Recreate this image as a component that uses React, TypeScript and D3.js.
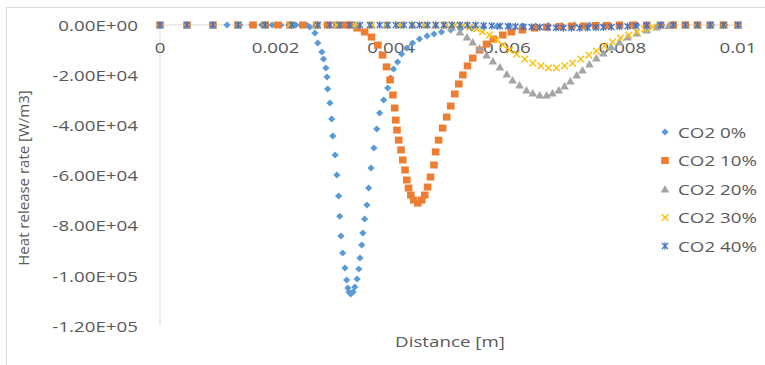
import * as d3 from "d3";

// distance [m], heat release rate [W/m3]
const co2_0: [number, number][] = [
  [0, 0], [0.000467, 0], [0.000916, 0], [0.00116, 0], [0.00138, 0], [0.00159, 0], [0.00176, 0],
  [0.00194, 0], [0.00209, 0], [0.00223, 0], [0.00235, 0], [0.00245, 0], [0.00254, 0],
  [0.00259, -800], [0.00268, -3200], [0.00273, -7200], [0.0028, -10800], [0.00283, -13600],
  [0.00287, -17100], [0.00289, -20700], [0.0029, -25500], [0.00294, -31100], [0.00297, -37500],
  [0.00299, -44300], [0.00303, -51800], [0.00306, -59800], [0.00309, -68200], [0.00311, -76200],
  [0.00313, -84100], [0.00316, -90900], [0.0032, -96900], [0.00323, -101700], [0.00325, -104900],
  [0.00327, -106400], [0.0033, -107200], [0.00334, -106400], [0.00337, -104500], [0.00341, -101300],
  [0.00344, -97300], [0.00346, -92900], [0.00349, -87700], [0.00351, -82900], [0.00354, -77300],
  [0.00358, -71800], [0.00361, -65000], [0.00365, -57000], [0.0037, -49000], [0.00375, -41500],
  [0.0038, -35100], [0.00387, -29900], [0.00394, -25100], [0.00399, -21100], [0.00404, -17500],
  [0.00411, -14800], [0.00418, -11600], [0.00427, -9200], [0.00437, -7200], [0.00449, -5600],
  [0.00462, -4400], [0.00474, -3600], [0.00487, -2800], [0.00503, -2000], [0.0052, -1600],
  [0.00539, -1200], [0.0056, -800], [0.00583, -600], [0.00605, -400], [0.00627, -400],
  [0.0065, -400], [0.00672, -200], [0.00695, -200], [0.00717, 0], [0.00743, 0], [0.00769, 0],
  [0.00795, 0], [0.00825, 0], [0.00842, 0], [0.00868, 0], [0.00887, 0], [0.00911, 0],
  [0.0093, 0], [0.00954, 0], [0.00977, 0], [0.01, 0],
];

const co2_10: [number, number][] = [
  [0, 0], [0.000467, 0], [0.000916, 0], [0.00135, 0], [0.00161, 0], [0.00182, 0], [0.00204, 0],
  [0.00225, 0], [0.00247, 0], [0.00271, 0], [0.0029, 0], [0.00306, 0], [0.0032, 0], [0.00332, 0],
  [0.00341, -1200], [0.00354, -2800], [0.00366, -4800], [0.00377, -8000], [0.00385, -12000],
  [0.00392, -16700], [0.00398, -21900], [0.00403, -27900], [0.00406, -33100], [0.00408, -37900],
  [0.0041, -41900], [0.00413, -45900], [0.00417, -49800], [0.0042, -53800], [0.00424, -57800],
  [0.00427, -61800], [0.0043, -65000], [0.00434, -67800], [0.00439, -69800], [0.00446, -71000],
  [0.00453, -69800], [0.00458, -67800], [0.00463, -64600], [0.00468, -60600], [0.00474, -55800],
  [0.00477, -50600], [0.00482, -45900], [0.00489, -41100], [0.00496, -36700], [0.00503, -32300],
  [0.0051, -27500], [0.00517, -23500], [0.00524, -19900], [0.00532, -16300], [0.00541, -13200],
  [0.00553, -10000], [0.00565, -7600], [0.00577, -5600], [0.00593, -4000], [0.00608, -2800],
  [0.00627, -2000], [0.00648, -1200], [0.00669, -800], [0.00691, -600], [0.00712, -400],
  [0.00733, -400], [0.00754, -200], [0.00774, -200], [0.00795, 0], [0.00818, 0], [0.00842, 0],
  [0.00866, 0], [0.00888, 0], [0.00909, 0], [0.0093, 0], [0.00952, 0], [0.00975, 0], [0.01, 0],
];

const co2_20: [number, number][] = [
  [0, 0], [0.000467, 0], [0.000916, 0], [0.00135, 0], [0.00182, 0], [0.00225, 0], [0.00271, 0],
  [0.00306, 0], [0.00337, 0], [0.00366, 0], [0.00392, 0], [0.00415, 0], [0.00437, 0], [0.00458, 0],
  [0.00477, 0], [0.00494, 0],
  [0.00505, -800], [0.00519, -2800], [0.00531, -4800], [0.00541, -6800], [0.00553, -9200],
  [0.00565, -12000], [0.00576, -14400], [0.00588, -16700], [0.006, -19500], [0.0061, -21900],
  [0.00622, -23900], [0.00634, -25900], [0.00645, -27100], [0.00657, -27900], [0.00669, -27900],
  [0.00679, -27100], [0.0069, -25900], [0.007, -24300], [0.0071, -22300], [0.00721, -19900],
  [0.00731, -17900], [0.00743, -15500], [0.00755, -13200], [0.00767, -11200], [0.00781, -8800],
  [0.00795, -6800], [0.00809, -4800], [0.00825, -3200], [0.00842, -2000], [0.00859, -800],
  [0.0088, -200], [0.00909, 0], [0.0093, 0], [0.00952, 0], [0.00975, 0], [0.01, 0],
];

const co2_30: [number, number][] = [
  [0, 0], [0.000467, 0], [0.000916, 0], [0.00135, 0], [0.00182, 0], [0.00225, 0], [0.00271, 0],
  [0.00306, 0], [0.00337, 0], [0.00366, 0], [0.00392, 0], [0.00415, 0], [0.00437, 0], [0.00458, 0],
  [0.00477, 0], [0.00494, 0], [0.0051, 0],
  [0.00524, -200], [0.00536, -800], [0.00548, -1600], [0.00558, -2800], [0.0057, -4000],
  [0.00583, -6000], [0.00593, -8000], [0.00605, -10000], [0.00617, -11600], [0.00631, -13600],
  [0.00645, -15200], [0.00659, -16300], [0.00672, -17100], [0.00686, -17100], [0.007, -16300],
  [0.00714, -15200], [0.00728, -13600], [0.00742, -12000], [0.00755, -10400], [0.00769, -8400],
  [0.00783, -6800], [0.00797, -5200], [0.00811, -4000], [0.00825, -2800], [0.00838, -1600],
  [0.00852, -800], [0.00866, -200], [0.00888, 0], [0.00909, 0], [0.0093, 0], [0.00952, 0],
  [0.00975, 0], [0.01, 0],
];

const co2_40: [number, number][] = [
  [0, 0], [0.000467, 0], [0.000916, 0], [0.00135, 0], [0.00182, 0], [0.00228, 0], [0.00273, 0],
  [0.00294, 0], [0.00311, 0], [0.00328, 0], [0.00346, 0], [0.00363, 0], [0.0038, 0], [0.00394, 0],
  [0.00408, 0], [0.00422, 0], [0.00436, 0], [0.00449, 0], [0.00463, 0], [0.00477, 0], [0.00491, 0],
  [0.00505, 0], [0.00519, 0], [0.00532, 0], [0.00546, 0], [0.0056, -200], [0.00574, -300],
  [0.00588, -400], [0.00602, -500], [0.00615, -600], [0.00629, -700], [0.00643, -800],
  [0.00657, -900], [0.00671, -1000], [0.00685, -1100], [0.00698, -1200], [0.00712, -1200],
  [0.00726, -1200], [0.0074, -1100], [0.00754, -1000], [0.00767, -900], [0.00781, -800],
  [0.00795, -600], [0.00809, -500], [0.00823, -300], [0.00842, -200], [0.00866, -100],
  [0.00888, 0], [0.00909, 0], [0.0093, 0], [0.00952, 0], [0.00975, 0], [0.01, 0],
];

const seriesNames = ["CO2 0%", "CO2 10%", "CO2 20%", "CO2 30%", "CO2 40%"];
const seriesData = [co2_0, co2_10, co2_20, co2_30, co2_40];
const seriesColors = ["#5B9BD5", "#ED7D31", "#A5A5A5", "#FFC000", "#4472C4"];
const seriesMarkers = ["diamond", "square", "triangle", "cross", "star"];

const xTicks = [0, 0.002, 0.004, 0.006, 0.008, 0.01];
const xTickLabels = ["0", "0.002", "0.004", "0.006", "0.008", "0.01"];
const yTicks = [0, -20000, -40000, -60000, -80000, -100000, -120000];
const yTickLabels = ["0.00E+00", "-2.00E+04", "-4.00E+04", "-6.00E+04", "-8.00E+04", "-1.00E+05", "-1.20E+05"];

const W = 765, H = 365;
const SX = 1.25; // horizontal stretch of the source picture
const textColor = "#595959";
const font = "'Open Sans', sans-serif";

function Marker({ kind, color, x, y }: { kind: string; color: string; x: number; y: number }) {
  const t = `translate(${x},${y})`;
  if (kind === "diamond") return <path transform={t} d="M0,-3.5L3.6,0L0,3.5L-3.6,0Z" fill={color} />;
  if (kind === "square") return <path transform={t} d="M-3.8,-3.5h7.6v7h-7.6Z" fill={color} />;
  if (kind === "triangle") return <path transform={t} d="M0,-4L4.3,3.5L-4.3,3.5Z" fill={color} />;
  if (kind === "cross")
    return <path transform={t} d="M-3.3,-3.3L3.3,3.3M3.3,-3.3L-3.3,3.3" stroke={color} strokeWidth={1.4} fill="none" />;
  return (
    <path transform={t} d="M-3,-3L3,3M3,-3L-3,3M0,-3.8L0,3.8" stroke={color} strokeWidth={1.3} fill="none" />
  );
}

function Label({ x, y, text, size = 15, anchor = "middle", rotate = 0 }: any) {
  const tr = rotate ? `translate(${x},${y}) rotate(${rotate})` : `translate(${x},${y}) scale(${SX},1)`;
  return (
    <text transform={tr} textAnchor={anchor} dominantBaseline="central" fontFamily={font} fontSize={size} fill={textColor}>
      {text}
    </text>
  );
}

export default function App() {
  const x = d3.scaleLinear().domain([0, 0.01]).range([160, 738]);
  const y = d3.scaleLinear().domain([-120000, 0]).range([326, 25]);

  return (
    <svg width={W} height={H} style={{ position: "absolute", left: 0, top: 0, background: "#fff" }}>
      <rect x={6.5} y={7.5} width={W + 20} height={H + 20} fill="#fff" stroke="#D9D9D9" />

      {/* axes */}
      <line x1={x(0)} x2={x(0)} y1={y(0)} y2={y(-120000)} stroke="#D9D9D9" />
      <line x1={x(0)} x2={x(0.01)} y1={y(0)} y2={y(0)} stroke="#D9D9D9" />

      {yTicks.map((t, i) => (
        <Label key={"y" + i} x={138} y={y(t)} text={yTickLabels[i]} anchor="end" />
      ))}
      {xTicks.map((t, i) => (
        <Label key={"x" + i} x={x(t)} y={47} text={xTickLabels[i]} />
      ))}

      <Label x={450} y={341} text="Distance [m]" />
      <Label x={23} y={178} text="Heat release rate [W/m3]" rotate={-90} />

      {seriesData.map((d, si) => (
        <g key={seriesNames[si]}>
          {d.map(([dx, dy], i) => (
            <Marker key={i} kind={seriesMarkers[si]} color={seriesColors[si]} x={x(dx)} y={y(dy)} />
          ))}
        </g>
      ))}

      {seriesNames.map((n, i) => (
        <g key={"lg" + n}>
          <Marker kind={seriesMarkers[i]} color={seriesColors[i]} x={665} y={132 + i * 28.5} />
          <Label x={678} y={132 + i * 28.5} text={n} anchor="start" />
        </g>
      ))}
    </svg>
  );
}
